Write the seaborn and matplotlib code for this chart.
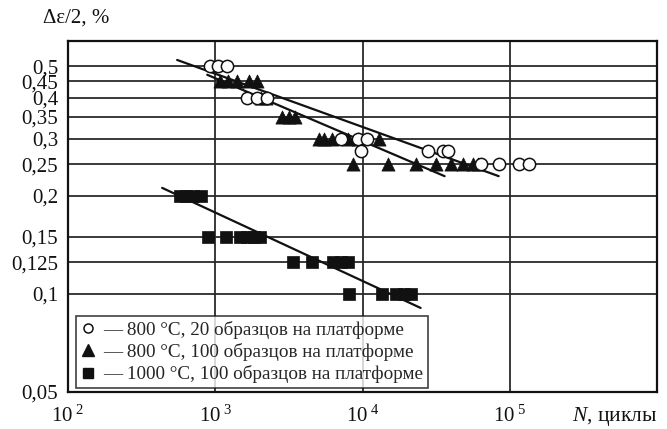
import matplotlib
matplotlib.use("Agg")
import matplotlib.pyplot as plt
from matplotlib.ticker import FixedLocator, FixedFormatter, NullLocator
from matplotlib.lines import Line2D
import seaborn as sns

# --- measured points: cycles to failure N and strain amplitude (%) ---
circ_N = [925, 1050, 1210, 1650, 1930, 2260, 7200, 9250, 10800, 9700,
          27700, 35000, 37900, 63500, 84200, 115000, 135000]
circ_eps = [0.5, 0.5, 0.5, 0.4, 0.4, 0.4, 0.3, 0.3, 0.3, 0.275,
            0.275, 0.275, 0.275, 0.25, 0.25, 0.25, 0.25]

tri_N = [1080, 1225, 1410, 1700, 1930, 2060, 2220, 2860, 3190, 3500,
         5100, 5510, 6250, 8030, 9250, 12850,
         8680, 15000, 22950, 31400, 39700, 47900, 56000, 60600]
tri_eps = [0.45, 0.45, 0.45, 0.45, 0.45, 0.4, 0.4, 0.35, 0.35, 0.35,
           0.3, 0.3, 0.3, 0.3, 0.3, 0.3,
           0.25, 0.25, 0.25, 0.25, 0.25, 0.25, 0.25, 0.25]

sq_N = [578, 635, 708, 803, 896, 1190, 1480, 1650, 1840, 2020,
        3390, 4570, 6350, 7090, 8030, 8160, 13460, 17000, 19000, 21200]
sq_eps = [0.2, 0.2, 0.2, 0.2, 0.15, 0.15, 0.15, 0.15, 0.15, 0.15,
          0.125, 0.125, 0.125, 0.125, 0.125, 0.1, 0.1, 0.1, 0.1, 0.1]

# fitted fatigue lines (end points)
fit_circ_N = [551, 84100]
fit_circ_eps = [0.523, 0.230]
fit_tri_N = [882, 36100]
fit_tri_eps = [0.471, 0.230]
fit_sq_N = [436, 24800]
fit_sq_eps = [0.2117, 0.0906]

labels = ["— 800 °C, 20 образцов на платформе",
          "— 800 °C, 100 образцов на платформе",
          "— 1000 °C, 100 образцов на платформе"]

y_ticks = [0.05, 0.1, 0.125, 0.15, 0.2, 0.25, 0.3, 0.35, 0.4, 0.45, 0.5]
y_ticklabels = ["0,05", "0,1", "0,125", "0,15", "0,2", "0,25", "0,3",
                "0,35", "0,4", "0,45", "0,5"]
x_ticks = [1e2, 1e3, 1e4, 1e5]
x_ticklabels = [r"$\mathregular{10^{\ 2}}$", r"$\mathregular{10^{\ 3}}$",
                r"$\mathregular{10^{\ 4}}$", r"$\mathregular{10^{\ 5}}$"]

sns.set_theme(style="white")
plt.rcParams["font.family"] = ["Liberation Serif", "DejaVu Serif"]
plt.rcParams["mathtext.fontset"] = "custom"
plt.rcParams["mathtext.rm"] = "Liberation Serif"
plt.rcParams["mathtext.it"] = "Liberation Serif:italic"

fig = plt.figure(figsize=(6.67, 4.29), dpi=100)
ax = fig.add_axes([68 / 667, 1 - 392 / 429, (657 - 68) / 667, (392 - 41) / 429])

ink = "#111111"
grid_c = "#2a2a2a"

ax.set_xscale("log")
ax.set_yscale("log")
ax.set_xlim(1e2, 1e6)
ax.set_ylim(0.05, 0.598)

# grid
for yv in y_ticks[1:]:
    ax.axhline(yv, color=grid_c, lw=1.3, zorder=1)
for xv in x_ticks[1:]:
    ax.axvline(xv, color=grid_c, lw=1.3, zorder=1)

# fit lines
for fx, fy in [(fit_circ_N, fit_circ_eps), (fit_tri_N, fit_tri_eps), (fit_sq_N, fit_sq_eps)]:
    sns.lineplot(x=fx, y=fy, ax=ax, color=ink, lw=1.6, zorder=3,
                 estimator=None, sort=False)

# data points
sns.scatterplot(x=sq_N, y=sq_eps, ax=ax, marker="s", s=70, color=ink,
                edgecolor=ink, linewidth=0.5, zorder=4)
sns.scatterplot(x=tri_N, y=tri_eps, ax=ax, marker="^", s=90, color=ink,
                edgecolor=ink, linewidth=0.5, zorder=4)
sns.scatterplot(x=circ_N, y=circ_eps, ax=ax, marker="o", s=78, facecolor="white",
                edgecolor=ink, linewidth=1.1, zorder=5)

ax.xaxis.set_major_locator(FixedLocator(x_ticks))
ax.xaxis.set_major_formatter(FixedFormatter(x_ticklabels))
ax.xaxis.set_minor_locator(NullLocator())
ax.yaxis.set_major_locator(FixedLocator(y_ticks))
ax.yaxis.set_major_formatter(FixedFormatter(y_ticklabels))
ax.yaxis.set_minor_locator(NullLocator())
ax.tick_params(axis="both", length=0, labelsize=15, colors=ink)
ax.tick_params(axis="y", pad=7)
ax.tick_params(axis="x", pad=10)

for sp in ax.spines.values():
    sp.set_color(ink)
    sp.set_linewidth(1.6)
ax.set_xlabel("")
ax.set_ylabel("")

# legend: markers only, text carries the dash
handles = [
    Line2D([], [], ls="none", marker="o", ms=6.5, mfc="white", mec=ink, mew=1.1),
    Line2D([], [], ls="none", marker="^", ms=8.5, mfc=ink, mec=ink),
    Line2D([], [], ls="none", marker="s", ms=7, mfc=ink, mec=ink),
]
leg = ax.legend(handles, labels, loc="lower left",
                bbox_to_anchor=(8 / 589, 4 / 351), borderaxespad=0,
                fontsize=13.8, frameon=True, fancybox=False,
                handlelength=0.7, handletextpad=0.45, labelspacing=0.22,
                borderpad=0.25)
leg.get_frame().set_edgecolor(ink)
leg.get_frame().set_linewidth(1.2)
leg.get_frame().set_facecolor("white")
leg.set_zorder(6)

fig.text(43 / 667, 1 - 18 / 429, "Δε/2, %", ha="left", va="center",
         fontsize=15, color=ink)
fig.text(572 / 667, 1 - 417 / 429, r"$\mathit{N}$, циклы", ha="left", va="center",
         fontsize=15.5, color=ink)

fig.savefig("out.png", dpi=100)
